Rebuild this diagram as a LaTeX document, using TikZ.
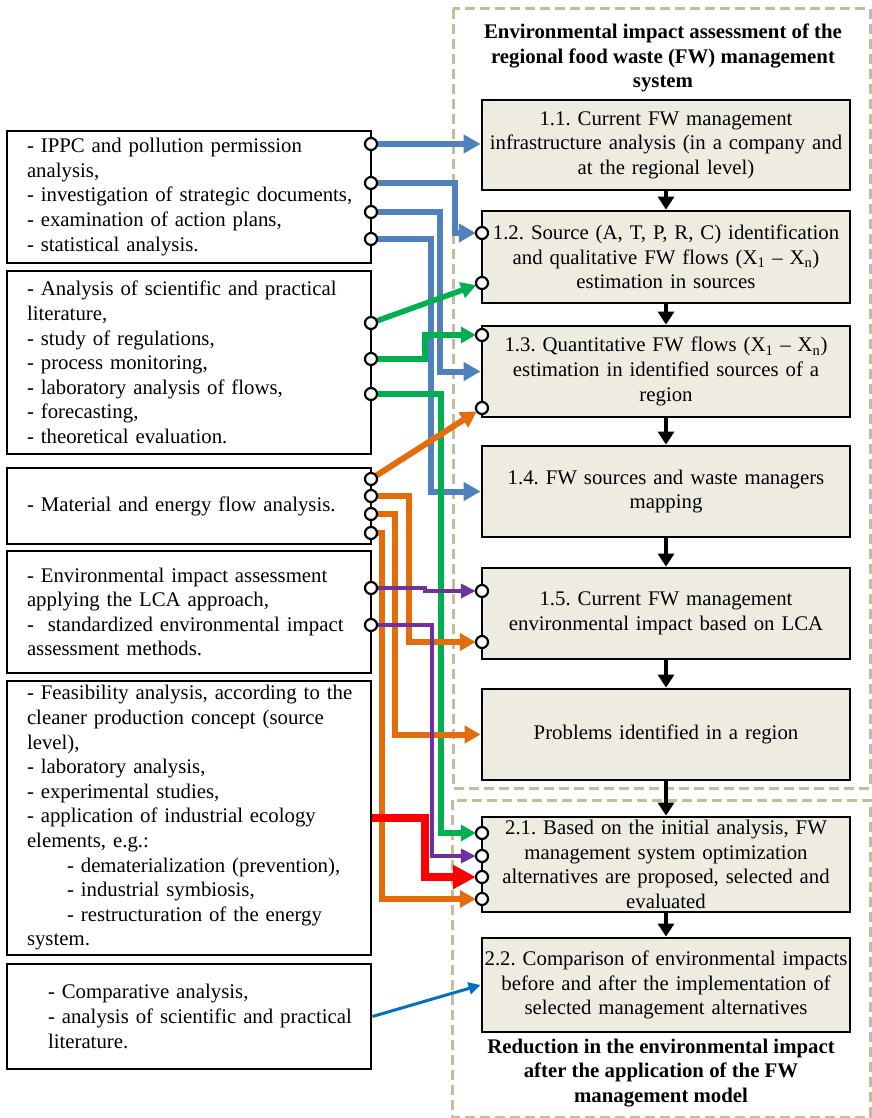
\documentclass[tikz,border=0pt]{standalone}
\usepackage{fontspec}
\setmainfont{Liberation Serif}
\usetikzlibrary{arrows.meta}
\frenchspacing
\hyphenpenalty=10000
\definecolor{stagefill}{RGB}{238,236,225}
\definecolor{framecol}{RGB}{196,189,151}
\definecolor{bluln}{RGB}{79,129,189}
\definecolor{grnln}{RGB}{0,176,80}
\definecolor{orgln}{RGB}{228,108,10}
\definecolor{purln}{RGB}{112,48,160}
\definecolor{bluxln}{RGB}{0,112,192}
\begin{document}
\begin{tikzpicture}[x=1pt,y=-1pt,font=\fontsize{20.8}{24.6}\selectfont,
	stage/.style={draw,line width=2.8pt,fill=stagefill,minimum width=368pt,text width=366pt,inner xsep=1pt,inner ysep=1pt,align=center},
	src/.style={draw,line width=2.8pt,minimum width=364pt,text width=336pt,inner xsep=14pt,align=left,execute at begin node={\leftskip 6pt\relax}},
	ttl/.style={font=\fontsize{20.8}{24.6}\selectfont\bfseries,align=center},
	port/.style={circle,minimum size=12pt,inner sep=0pt},
	frame/.style={draw=framecol,line width=3pt,dash pattern=on 10pt off 5pt},
	blu/.style={draw=bluln,line width=6pt,-{Triangle[length=17pt,width=18pt]},bluln},
	grn/.style={draw=grnln,line width=5.5pt,-{Triangle[length=15pt,width=16pt]},grnln},
	org/.style={draw=orgln,line width=6pt,-{Triangle[length=16pt,width=17pt]},orgln},
	pur/.style={draw=purln,line width=4pt,-{Triangle[length=15pt,width=14pt]},purln},
	rd/.style={draw=red,line width=8pt,-{Triangle[length=23pt,width=23pt]},red},
	blux/.style={draw=bluxln,line width=3pt,-{Triangle[length=12pt,width=12pt]},bluxln},
	blk/.style={line width=3.5pt,-{Triangle[length=13pt,width=16pt]}}]
	\useasboundingbox (0,0) rectangle (871,1118);
	\draw[frame] (453,9) rectangle (870,788);
	\draw[frame] (452,800) rectangle (870,1117);
	\node[ttl] (ttop) at (663,58) {Environmental impact assessment of the\\regional food waste (FW) management\\system};
	\node[ttl] (tbot) at (661,1073) {Reduction in the environmental impact\\after the application of the FW\\management model};
	
	\node[stage,minimum height=90pt] (r11) at (666,145) {1.1. Current FW management\\infrastructure analysis (in a company and\\at the regional level)};
	\node[stage,minimum height=92pt] (r12) at (666,257) {1.2. Source (A, T, P, R, C) identification\\and qualitative FW flows (X\textsubscript{1} -- X\textsubscript{n})\\estimation in sources};
	\node[stage,minimum height=91pt] (r13) at (666,371.5) {1.3. Quantitative FW flows (X\textsubscript{1} -- X\textsubscript{n})\\estimation in identified sources of a\\region};
	\node[stage,minimum height=91pt] (r14) at (666,491.5) {1.4. FW sources and waste managers\\mapping};
	\node[stage,minimum height=91pt] (r15) at (666,613.5) {1.5. Current FW management\\environmental impact based on LCA};
	\node[stage,minimum height=91pt] (r16) at (666,734.5) {Problems identified in a region};
	\node[stage,minimum height=95pt] (r21) at (666,864.5) {2.1. Based on the initial analysis, FW\\management system optimization\\alternatives are proposed, selected and\\evaluated};
	\node[stage,minimum height=94pt] (r22) at (666,985) {2.2. Comparison of environmental impacts\\before and after the implementation of\\selected management alternatives};
	
	\node[src,minimum height=132pt] (lA) at (189,197) {- IPPC and pollution permission\\analysis,\\- investigation of strategic documents,\\- examination of action plans,\\- statistical analysis.};
	\node[src,minimum height=183pt] (lB) at (189,362.5) {- Analysis of scientific and practical\\literature,\\- study of regulations,\\- process monitoring,\\- laboratory analysis of flows,\\- forecasting,\\- theoretical evaluation.};
	\node[src,minimum height=76pt] (lC) at (189,506) {- Material and energy flow analysis.};
	\node[src,minimum height=122pt] (lD) at (189,612) {- Environmental impact assessment\\applying the LCA approach,\\-\ \ standardized environmental impact\\assessment methods.};
	\node[src,minimum height=274pt] (lE) at (189,818) {- Feasibility analysis, according to the\\cleaner production concept (source\\level),\\- laboratory analysis,\\- experimental studies,\\- application of industrial ecology\\elements, e.g.:\\\hspace*{40pt}- dematerialization (prevention),\\\hspace*{40pt}- industrial symbiosis,\\\hspace*{40pt}- restructuration of the energy\\system.};
	\node[src,minimum height=105pt] (lF) at (189,1016.5) {\hspace*{21pt}- Comparative analysis,\\\hspace*{21pt}- analysis of scientific and practical\\\hspace*{21pt}literature.};
	
	\foreach \ten/\vt in {a1/144,a2/183,a3/212,a4/239,b1/323,b2/359,b3/394,c1/479,c2/496,c3/514,c4/533,d1/588,d2/625}
	\node[port] (\ten) at (371,\vt) {};
	\foreach \ten/\vt in {q12a/233,q12b/283,q13a/335,q13b/408,q15a/591,q15b/642,q21a/833,q21b/856,q21c/877,q21d/899}
	\node[port] (\ten) at (482,\vt) {};
	
	\foreach \tu/\den in {r11/r12,r12/r13,r13/r14,r14/r15,r15/r16,r16/r21,r21/r22}
	\draw[blk] (\tu) -- (\den);
	\draw[blu] (a1) -- (r11.west |- a1);
	\draw[blu] (a2) -- ++(84,0) |- (q12a);
	\draw[blu] (a3) -- ++(69,0) |- (r13.west);
	\draw[blu] (a4) -- ++(60,0) |- (r14.west);
	\draw[grn] (b1) -- (q12b);
	\draw[grn] (b2) -- ++(54,0) |- (q13a);
	\draw[grn] (b3) -- ++(70,0) |- (q21a);
	\draw[org] (c1) -- (q13b);
	\draw[org] (c2) -- ++(38,0) |- (q15b);
	\draw[org] (c3) -- ++(24,0) |- (r16.west);
	\draw[org] (c4) -- ++(11,0) |- (q21d);
	\draw[pur] (d1) -- ++(54,0) |- (q15a);
	\draw[pur] (d2) -- ++(61,0) |- (q21b);
	\draw[rd] (lE.east) -- ++(53,0) |- (q21c);
	\draw[blux] (lF.east) -- (r22.west);
	
	\foreach \ten in {a1,a2,a3,a4,b1,b2,b3,c1,c2,c3,c4,d1,d2,q12a,q12b,q13a,q13b,q15a,q15b,q21a,q21b,q21c,q21d}
	\node[port,draw,fill=white,line width=2.2pt] at (\ten) {};
\end{tikzpicture}
\end{document}
